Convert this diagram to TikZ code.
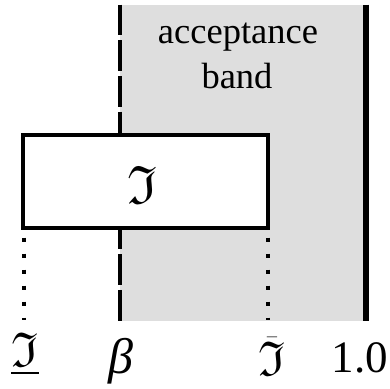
\documentclass[tikz,border=0pt]{standalone}
\usepackage{amssymb}
\usepackage{graphicx}
\usepackage{fontspec}
\setmainfont{Liberation Serif}
\begin{document}
\begin{tikzpicture}[x=1pt,y=-1pt,
  txt/.style={font=\fontsize{36.5}{42}\selectfont, inner sep=0pt, anchor=base},
  lbl/.style={font=\fontsize{45}{50}\selectfont, inner sep=0pt, anchor=base},
  frk/.style={font=\fontsize{40}{46}\selectfont, inner sep=0pt, anchor=base},
  boxstyle/.style={draw, line width=4pt, fill=white},
  dotline/.style={line width=4pt, dash pattern=on 4pt off 12pt},
  dashline/.style={line width=4.5pt, dash pattern=on 30.67pt off 5pt},
  solidline/.style={line width=5.5pt}]
\useasboundingbox (0,0) rectangle (390,388);
\fill[black!13] (120,4.5) rectangle (366,320.5);
\coordinate (dtop) at (120,4.5);
\coordinate (dbot) at (120,320.5);
\coordinate (stop) at (366,4.5);
\coordinate (sbot) at (366,320.5);
\draw[dashline] (dtop) -- (dbot);
\draw[solidline] (stop) -- (sbot);
\node[txt] (acc) at (238,43) {acceptance};
\node[txt] (band) at (237,88) {band};
\node[boxstyle, minimum width=245pt, minimum height=93pt, inner sep=0pt] (box) at (145.5,181) {};
\node[frk, anchor=center] (frak) at (142,185) {\scalebox{1.35}{$\mathfrak{I}$}};
\coordinate (lbot) at (23.5,320);
\coordinate (rbot) at (268,320);
\draw[dotline] ([yshift=-8pt]box.south west -| lbot) -- (lbot);
\draw[dotline] ([yshift=-8pt]box.south east -| rbot) -- (rbot);
\node[frk] (lo) at (25,366) {\scalebox{1.22}{$\underline{\mathfrak{I}}$}};
\node[lbl, font=\fontsize{50}{55}\selectfont] (beta) at (121,373) {\textit{β}};
\node[frk] (hi) at (272,375) {\scalebox{1.22}{$\bar{\mathfrak{I}}$}};
\node[lbl] (one) at (360,372) {1.0};
\end{tikzpicture}
\end{document}
